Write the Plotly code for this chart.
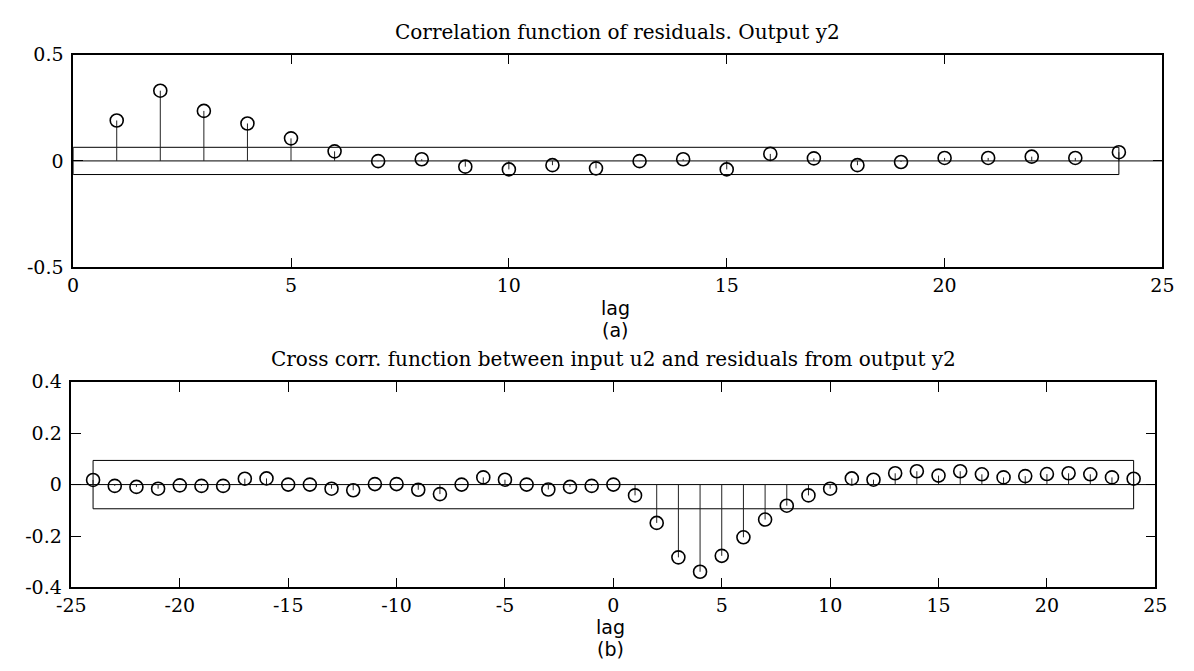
import plotly.graph_objects as go

# Autocorrelation of residuals, output y2
lags_a = list(range(1, 25))
acf_y2 = [0.19, 0.33, 0.235, 0.176, 0.106, 0.045, -0.001, 0.008, -0.027, -0.04,
          -0.02, -0.035, -0.001, 0.008, -0.04, 0.033, 0.012, -0.02, -0.005, 0.014,
          0.014, 0.02, 0.014, 0.041]
conf_a = 0.064

# Cross correlation between input u2 and residuals of output y2
lags_b = list(range(-24, 25))
ccf_u2y2 = [0.018, -0.005, -0.009, -0.016, -0.003, -0.005, -0.005, 0.023, 0.024, 0.0,
            0.0, -0.016, -0.022, 0.002, 0.002, -0.02, -0.037, 0.0, 0.028, 0.019,
            0.0, -0.019, -0.009, -0.005, 0.0, -0.042, -0.149, -0.283, -0.339, -0.277,
            -0.205, -0.136, -0.082, -0.042, -0.016, 0.024, 0.019, 0.044, 0.052, 0.035,
            0.052, 0.040, 0.028, 0.033, 0.041, 0.044, 0.040, 0.028, 0.023]
conf_b = 0.094

xticks_a = [0, 5, 10, 15, 20, 25]
yticks_a = [-0.5, 0, 0.5]
ytext_a = ["-0.5", "0", "0.5"]
xticks_b = [-25, -20, -15, -10, -5, 0, 5, 10, 15, 20, 25]
xtext_b = ["-25", "-20", "-15", "-10", "-5", "0", "5", "10", "15", "20", "25"]
yticks_b = [-0.4, -0.2, 0, 0.2, 0.4]
ytext_b = ["-0.4", "-0.2", "0", "0.2", "0.4"]

W, H = 1194, 671
SERIF = "DejaVu Serif"
SANS = "DejaVu Sans"

fig = go.Figure()


def stem_panel(lags, vals, conf, band_x0, band_x1, xr, xa, ya):
    sx, sy = [], []
    for l, v in zip(lags, vals):
        sx += [l, l, None]
        sy += [0, v, None]
    # zero baseline
    fig.add_trace(go.Scatter(x=list(xr), y=[0, 0], mode="lines",
                             line=dict(color="black", width=1),
                             xaxis=xa, yaxis=ya, showlegend=False, hoverinfo="skip"))
    # confidence band
    fig.add_trace(go.Scatter(x=[band_x0, band_x1, band_x1, band_x0, band_x0],
                             y=[conf, conf, -conf, -conf, conf], mode="lines",
                             line=dict(color="black", width=1),
                             xaxis=xa, yaxis=ya, showlegend=False, hoverinfo="skip"))
    # stems
    fig.add_trace(go.Scatter(x=sx, y=sy, mode="lines",
                             line=dict(color="#222222", width=1),
                             xaxis=xa, yaxis=ya, showlegend=False, hoverinfo="skip"))
    # stem heads
    fig.add_trace(go.Scatter(x=lags, y=vals, mode="markers",
                             marker=dict(symbol="circle-open", size=13,
                                         color="black", line=dict(width=1.6, color="black")),
                             xaxis=xa, yaxis=ya, showlegend=False, cliponaxis=False))


stem_panel(lags_a, acf_y2, conf_a, 0, 24, (0, 25), "x", "y")
stem_panel(lags_b, ccf_u2y2, conf_b, -24, 24, (-25, 25), "x2", "y2")

axis_common = dict(showgrid=False, zeroline=False, showline=True, mirror="ticks",
                   linecolor="black", linewidth=1.6, ticks="inside", ticklen=10,
                   tickwidth=1.4, tickcolor="black",
                   tickfont=dict(family=SERIF, size=19, color="black"))

fig.update_layout(
    width=W, height=H,
    margin=dict(l=0, r=0, t=0, b=0),
    paper_bgcolor="white", plot_bgcolor="white",
    xaxis=dict(domain=[59.5 / W, 1174 / W], range=[0, 25],
               tickvals=xticks_a, anchor="y", **axis_common),
    yaxis=dict(domain=[1 - 265 / H, 1 - 45 / H], range=[-0.5, 0.5],
               tickvals=yticks_a, ticktext=ytext_a, anchor="x",
               ticklabelstandoff=4, **axis_common),
    xaxis2=dict(domain=[57.7 / W, 1166.7 / W], range=[-25, 25],
                tickvals=xticks_b, ticktext=xtext_b, anchor="y2", **axis_common),
    yaxis2=dict(domain=[1 - 596 / H, 1 - 383.3 / H], range=[-0.4, 0.4],
                tickvals=yticks_b, ticktext=ytext_b, anchor="x2",
                ticklabelstandoff=4, **axis_common),
)

texts = [
    ("Correlation function of residuals. Output y2", 616.8, 22, SERIF, 20),
    ("lag", 614, 307, SANS, 19),
    ("(a)", 614, 330, SANS, 19),
    ("Cross corr. function between input u2 and residuals from output y2", 612, 360, SERIF, 20),
    ("lag", 609, 637, SANS, 19),
    ("(b)", 609, 660, SANS, 19),
]
for t, px, py, fam, fs in texts:
    fig.add_annotation(text=t, x=px / W, y=1 - py / H, xref="paper", yref="paper",
                       xanchor="center", yanchor="middle", showarrow=False,
                       font=dict(family=fam, size=fs, color="black"))

fig.write_html("out.html")
